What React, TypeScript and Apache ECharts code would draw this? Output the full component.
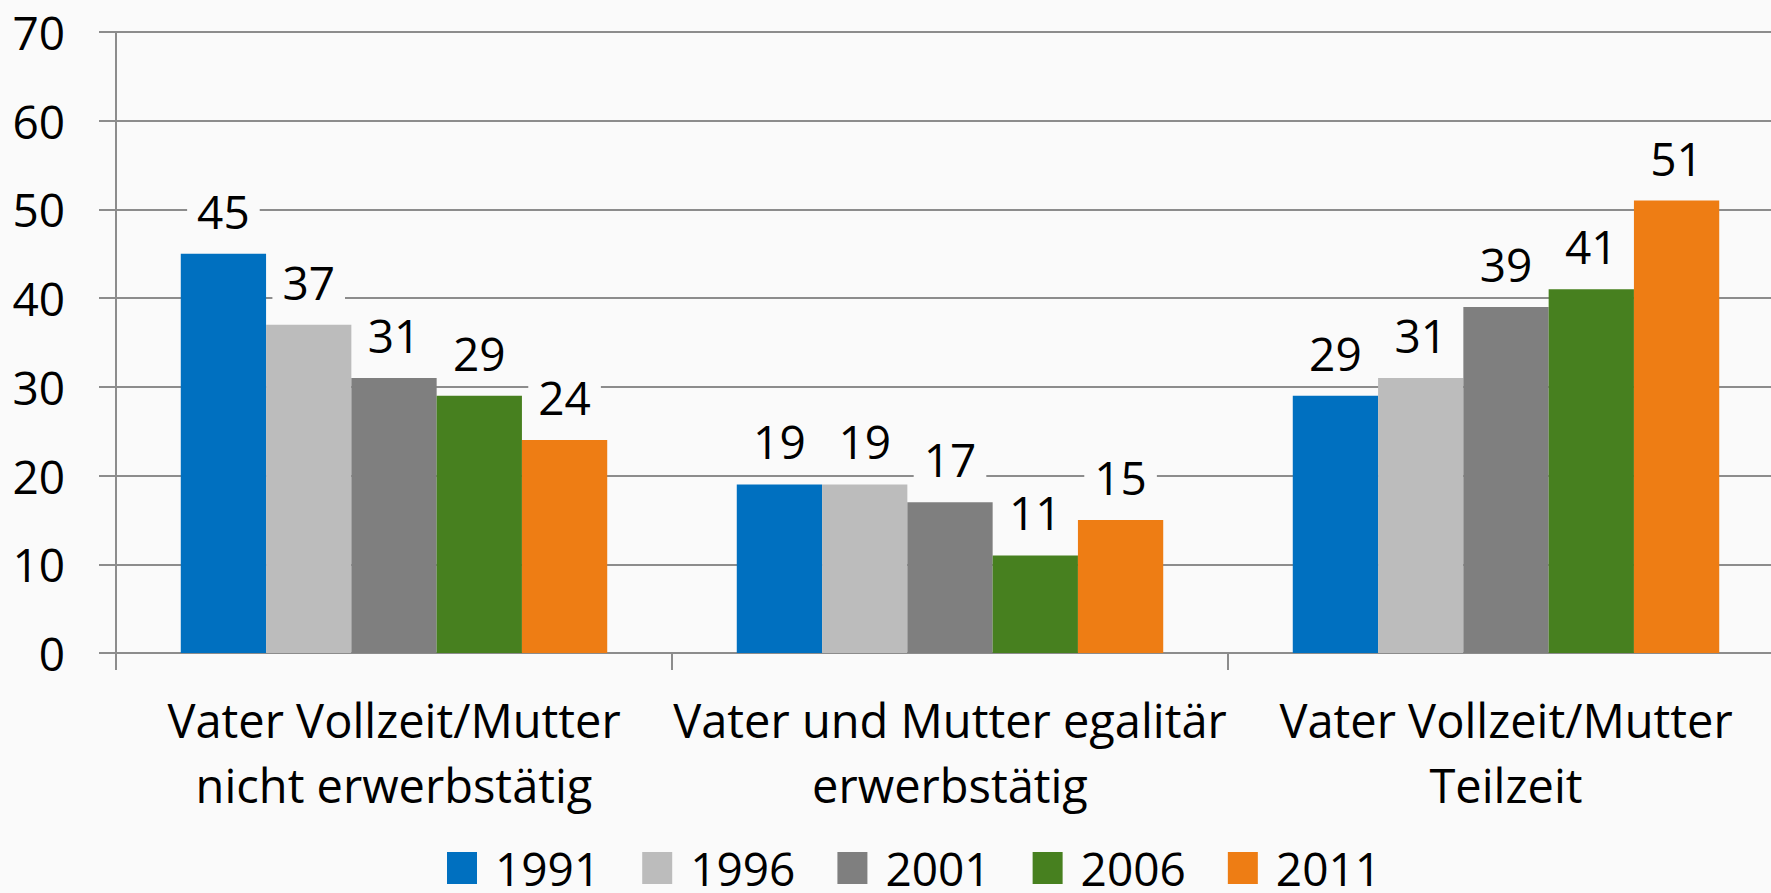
import React, { useEffect, useRef } from "react";
import * as echarts from "echarts";

const categories = [
  "Vater Vollzeit/Mutter\nnicht erwerbstätig",
  "Vater und Mutter egalitär\nerwerbstätig",
  "Vater Vollzeit/Mutter\nTeilzeit",
];
const years = ["1991", "1996", "2001", "2006", "2011"];
const values1991 = [45, 19, 29];
const values1996 = [37, 19, 31];
const values2001 = [31, 17, 39];
const values2006 = [29, 11, 41];
const values2011 = [24, 15, 51];
const seriesValues = [values1991, values1996, values2001, values2006, values2011];
const colors = ["#0070c0", "#bcbcbc", "#7f7f7f", "#47801f", "#ee7d14"];
const yTicks = { min: 0, max: 70, interval: 10 };

const BG = "#fafafa";
const FONT = "Open Sans";

export default function App() {
  const ref = useRef<HTMLDivElement>(null);
  useEffect(() => {
    if (!ref.current) return;
    const chart = echarts.init(ref.current, undefined, { renderer: "svg" });
    chart.setOption({
      animation: false,
      backgroundColor: BG,
      textStyle: { fontFamily: FONT },
      grid: { left: 116, top: 32, bottom: 240, right: 16, containLabel: false },
      legend: {
        left: 442,
        top: 840,
        itemWidth: 30,
        itemHeight: 32,
        itemGap: 42,
        icon: "rect",
        textStyle: { fontSize: 46, fontFamily: FONT, color: "#000", lineHeight: 46, padding: [0, 0, 0, 13] },
        data: years,
      },
      xAxis: {
        type: "category",
        data: categories,
        axisLine: { lineStyle: { color: "#8c8c8c", width: 2 } },
        axisTick: { show: true, length: 17, lineStyle: { color: "#8c8c8c", width: 2 } },
        axisLabel: {
          fontSize: 47,
          lineHeight: 65,
          color: "#000",
          fontFamily: FONT,
          margin: 34,
          interval: 0,
        },
      },
      yAxis: {
        type: "value",
        min: yTicks.min,
        max: yTicks.max,
        interval: yTicks.interval,
        axisLine: { show: true, lineStyle: { color: "#8c8c8c", width: 2 } },
        axisTick: { show: true, length: 17, lineStyle: { color: "#8c8c8c", width: 2 } },
        splitLine: { lineStyle: { color: "#8c8c8c", width: 2 } },
        axisLabel: { fontSize: 46, color: "#000", fontFamily: FONT, margin: 51 },
      },
      series: years.map((y, i) => ({
        name: y,
        type: "bar",
        data: seriesValues[i],
        barGap: "0%",
        barCategoryGap: "23.3%",
        itemStyle: { color: colors[i] },
        label: {
          show: true,
          position: "top",
          distance: 18,
          fontSize: 46,
          lineHeight: 46,
          color: "#000",
          fontFamily: FONT,
          backgroundColor: BG,
          padding: [2, 10, 2, 10],
        },
      })),
    });
    return () => chart.dispose();
  }, []);
  return (
    <div style={{ position: "fixed", left: 0, top: 0, width: 1771, height: 893, overflow: "hidden", background: BG }}>
      <div ref={ref} style={{ width: 1800, height: 893 }} />
    </div>
  );
}
